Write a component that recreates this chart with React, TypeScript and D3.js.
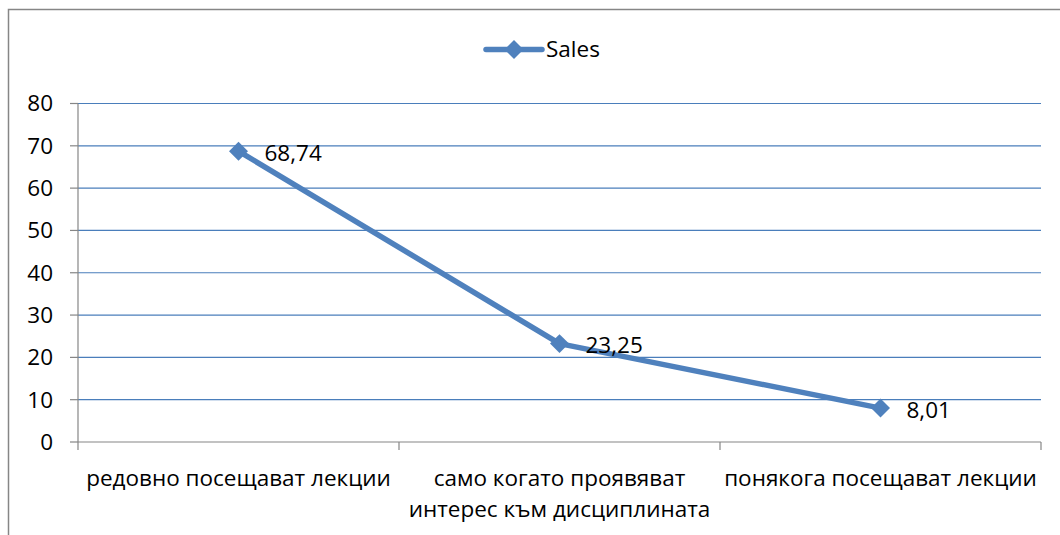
import React, { useRef, useEffect } from "react";
import * as d3 from "d3";

const categories = [
  ["редовно посещават лекции"],
  ["само когато проявяват", "интерес към дисциплината"],
  ["понякога посещават лекции"],
];
const salesValues = [68.74, 23.25, 8.01];
const valueLabels = ["68,74", "23,25", "8,01"];
const yTicks = [0, 10, 20, 30, 40, 50, 60, 70, 80];
const seriesName = "Sales";

const WIDTH = 1060;
const HEIGHT = 535;
const FONT = "'Open Sans', 'Noto Sans', sans-serif";
const FONT_SIZE = 22.5;
const BLUE = "#4F81BD";
const GRID = "#4A7EBB";
const AXIS = "#868686";

const App: React.FC = () => {
  const svgRef = useRef<SVGSVGElement>(null);

  useEffect(() => {
    if (!svgRef.current) return;
    const svg = d3.select(svgRef.current);
    svg.selectAll("*").remove();

    const plot = { left: 78, right: 1041, top: 103.5, bottom: 442 };

    // Outer chart border (right/bottom fall outside the page)
    svg
      .append("rect")
      .attr("x", 8.5)
      .attr("y", 9.5)
      .attr("width", WIDTH + 20)
      .attr("height", HEIGHT + 20)
      .attr("fill", "white")
      .attr("stroke", AXIS)
      .attr("stroke-width", 1.5);

    const x = d3
      .scaleBand<number>()
      .domain(d3.range(categories.length))
      .range([plot.left, plot.right]);

    const y = d3.scaleLinear().domain([0, 80]).range([plot.bottom, plot.top]);

    // Gridlines
    svg
      .append("g")
      .selectAll("line")
      .data(yTicks.filter((t) => t > 0))
      .join("line")
      .attr("x1", plot.left)
      .attr("x2", plot.right)
      .attr("y1", (d) => y(d))
      .attr("y2", (d) => y(d))
      .attr("stroke", GRID)
      .attr("stroke-width", 1.2);

    // Y axis
    const yAxis = svg.append("g");
    yAxis
      .append("line")
      .attr("x1", plot.left)
      .attr("x2", plot.left)
      .attr("y1", plot.top)
      .attr("y2", plot.bottom)
      .attr("stroke", AXIS)
      .attr("stroke-width", 1.2);
    yAxis
      .selectAll("line.tick")
      .data(yTicks)
      .join("line")
      .attr("class", "tick")
      .attr("x1", plot.left - 8)
      .attr("x2", plot.left)
      .attr("y1", (d) => y(d))
      .attr("y2", (d) => y(d))
      .attr("stroke", AXIS)
      .attr("stroke-width", 1.2);
    yAxis
      .selectAll("text")
      .data(yTicks)
      .join("text")
      .attr("x", 53)
      .attr("y", (d) => y(d))
      .attr("dy", "0.35em")
      .attr("text-anchor", "end")
      .attr("font-family", FONT)
      .attr("font-size", FONT_SIZE)
      .attr("fill", "#000")
      .text((d) => d);

    // X axis
    const xAxis = svg.append("g");
    xAxis
      .append("line")
      .attr("x1", plot.left)
      .attr("x2", plot.right)
      .attr("y1", plot.bottom)
      .attr("y2", plot.bottom)
      .attr("stroke", AXIS)
      .attr("stroke-width", 1.2);
    const tickPos = [...x.domain().map((i) => x(i) as number), plot.right];
    xAxis
      .selectAll("line.tick")
      .data(tickPos)
      .join("line")
      .attr("class", "tick")
      .attr("x1", (d) => d)
      .attr("x2", (d) => d)
      .attr("y1", plot.bottom)
      .attr("y2", plot.bottom + 8)
      .attr("stroke", AXIS)
      .attr("stroke-width", 1.2);
    const catText = xAxis
      .selectAll("text")
      .data(categories)
      .join("text")
      .attr("text-anchor", "middle")
      .attr("font-family", FONT)
      .attr("font-size", FONT_SIZE)
      .attr("fill", "#000");
    catText
      .selectAll("tspan")
      .data((d, i) => d.map((line) => ({ line, i })))
      .join("tspan")
      .attr("x", (d) => (x(d.i) as number) + x.bandwidth() / 2)
      .attr("y", (_, j) => 486 + j * 31)
      .text((d) => d.line);

    // Line
    const cx = (i: number) => (x(i) as number) + x.bandwidth() / 2;
    const line = d3
      .line<number>()
      .x((_, i) => cx(i))
      .y((d) => y(d));
    svg
      .append("path")
      .datum(salesValues)
      .attr("fill", "none")
      .attr("stroke", BLUE)
      .attr("stroke-width", 5.5)
      .attr("stroke-linejoin", "round")
      .attr("d", line);

    const diamond = d3.symbol().type(d3.symbolDiamond2).size(230);
    svg
      .append("g")
      .selectAll("path")
      .data(salesValues)
      .join("path")
      .attr("transform", (d, i) => `translate(${cx(i)},${y(d)})`)
      .attr("d", diamond)
      .attr("fill", BLUE);

    // Data labels
    svg
      .append("g")
      .selectAll("text")
      .data(salesValues)
      .join("text")
      .attr("x", (_, i) => cx(i) + 26)
      .attr("y", (d) => y(d) + 2)
      .attr("dy", "0.35em")
      .attr("font-family", FONT)
      .attr("font-size", FONT_SIZE)
      .attr("fill", "#000")
      .text((_, i) => valueLabels[i]);

    // Legend
    const legend = svg.append("g").attr("transform", "translate(486,49.5)");
    legend
      .append("line")
      .attr("x1", 0)
      .attr("x2", 56)
      .attr("stroke", BLUE)
      .attr("stroke-width", 5.5)
      .attr("stroke-linecap", "round");
    legend
      .append("path")
      .attr("transform", "translate(28,0)")
      .attr("d", diamond)
      .attr("fill", BLUE);
    legend
      .append("text")
      .attr("x", 60)
      .attr("dy", "0.35em")
      .attr("font-family", FONT)
      .attr("font-size", FONT_SIZE)
      .attr("fill", "#000")
      .text(seriesName);
  }, []);

  return (
    <svg
      ref={svgRef}
      width={WIDTH}
      height={HEIGHT}
      style={{ position: "absolute", left: 0, top: 0 }}
    />
  );
};

export default App;
